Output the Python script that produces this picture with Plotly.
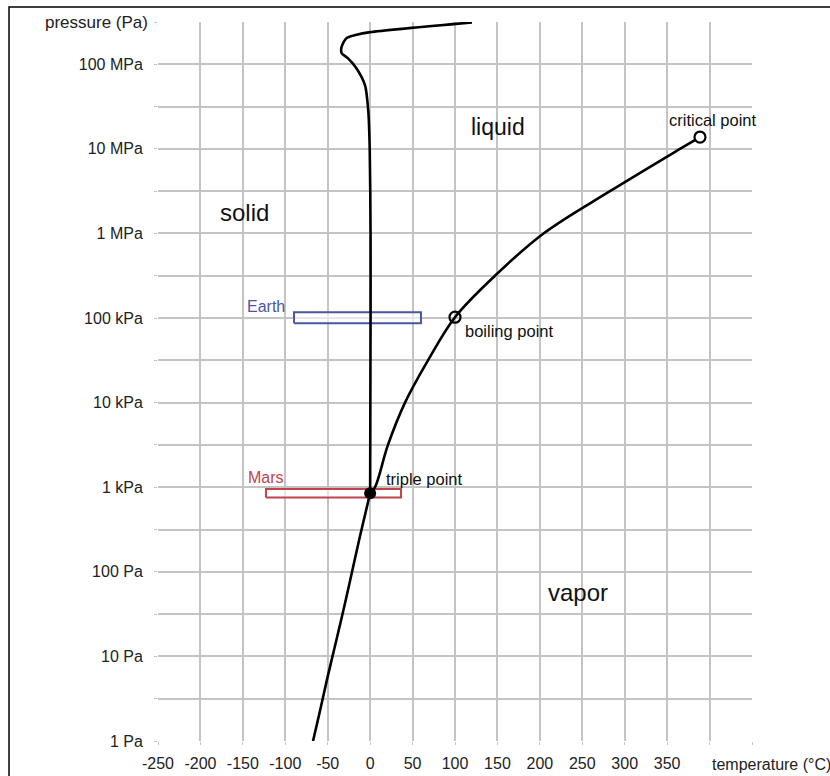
import plotly.graph_objects as go

# Phase boundaries of water: temperature (°C) and log10 of pressure (Pa)
sublimation_t = [-67.3, -59.0, -51.0, -42.0, -33.0, -24.0, -12.0, 0.0]
sublimation_logp = [0.0, 0.36, 0.72, 1.10, 1.48, 1.88, 2.42, 2.93]

vaporization_t = [0.0, 5.7, 21.0, 41.1, 68.2, 100.0, 147.1, 204.3, 282.6, 365.1, 388.7]
vaporization_logp = [2.93, 3.0, 3.5, 4.0, 4.5, 5.01, 5.5, 6.0, 6.5, 7.0, 7.14]

melting_t = [0.0, 0.5, 0.5, -0.5, -2.2, -6.0, -16.0, -26.0, -33.5, -34.2, -33.5, -27.6, -16.0, 0.0, 120.0]
melting_logp = [2.93, 5.0, 6.0, 7.0, 7.45, 7.75, 7.95, 8.07, 8.13, 8.17, 8.21, 8.31, 8.35, 8.38, 8.495]

# Notable points
triple_point = (0.0, 2.93)
boiling_point = (100.0, 5.01)
critical_point = (388.7, 7.14)

# Surface condition ranges (temperature span, log10 pressure span)
earth_t = [-89.7, 59.9]
earth_logp = [4.94, 5.07]
mars_t = [-122.7, 36.4]
mars_logp = [2.88, 2.98]

# Axis ticks
x_ticks = list(range(-250, 451, 50))
x_ticktext = [str(v) if v <= 350 else "" for v in x_ticks]
y_tick_logs = [k / 2 for k in range(0, 18)]
decade_names = ["1 Pa", "10 Pa", "100 Pa", "1 kPa", "10 kPa", "100 kPa", "1 MPa", "10 MPa", "100 MPa"]

EARTH_COLOR = "#4b56a3"
MARS_COLOR = "#c0434d"
FONT = "Liberation Sans, Arial, sans-serif"
GRID = "#c4c4c4"

y_ticktext = []
for lg in y_tick_logs:
    if float(lg).is_integer():
        y_ticktext.append(decade_names[int(lg)])
    else:
        y_ticktext.append("")


def p(logs):
    return [10 ** v for v in logs]


def box(ts, lps):
    xs = [ts[0], ts[1], ts[1], ts[0], ts[0]]
    ys = [lps[0], lps[0], lps[1], lps[1], lps[0]]
    return xs, p(ys)


fig = go.Figure()

# Earth and Mars condition boxes
for ts, lps, col in [(earth_t, earth_logp, EARTH_COLOR), (mars_t, mars_logp, MARS_COLOR)]:
    bx, by = box(ts, lps)
    fig.add_trace(go.Scatter(x=bx, y=by, mode="lines", fill="toself",
                             fillcolor="rgba(255,255,255,0.6)",
                             line=dict(color=col, width=2), hoverinfo="skip"))

line_style = dict(color="black", width=2.6)
fig.add_trace(go.Scatter(x=sublimation_t, y=p(sublimation_logp), mode="lines",
                         line=dict(**line_style, shape="spline", smoothing=0.8)))
fig.add_trace(go.Scatter(x=vaporization_t, y=p(vaporization_logp), mode="lines",
                         line=dict(**line_style, shape="spline", smoothing=1.0)))
fig.add_trace(go.Scatter(x=melting_t, y=p(melting_logp), mode="lines",
                         line=dict(**line_style, shape="spline", smoothing=0.7)))

# Triple point (filled), boiling point (open), critical point (open, white)
fig.add_trace(go.Scatter(x=[triple_point[0]], y=p([triple_point[1]]), mode="markers",
                         marker=dict(symbol="circle", size=12, color="black")))
fig.add_trace(go.Scatter(x=[boiling_point[0]], y=p([boiling_point[1]]), mode="markers",
                         marker=dict(symbol="circle-open", size=11, color="black",
                                     line=dict(width=2.2))))
fig.add_trace(go.Scatter(x=[critical_point[0]], y=p([critical_point[1]]), mode="markers",
                         marker=dict(symbol="circle", size=11, color="white",
                                     line=dict(color="black", width=2.2))))

annotations = [
    dict(text="solid", x=-147.5, y=6.25, size=24, color="#111"),
    dict(text="liquid", x=151, y=7.26, size=23, color="#111"),
    dict(text="vapor", x=245, y=1.76, size=24, color="#111"),
    dict(text="critical point", x=404, y=7.34, size=16.5, color="#111"),
    dict(text="boiling point", x=163.6, y=4.85, size=16.5, color="#111"),
    dict(text="triple point", x=64.6, y=3.10, size=16.5, color="#111"),
    dict(text="Earth", x=-122.7, y=5.14, size=16, color=EARTH_COLOR),
    dict(text="Mars", x=-123.3, y=3.11, size=16, color=MARS_COLOR),
]
for a in annotations:
    fig.add_annotation(x=a["x"], y=a["y"], text=a["text"], showarrow=False,
                       xanchor="center", yanchor="middle",
                       font=dict(family=FONT, size=a["size"], color=a["color"]))

# Axis titles placed at the ends of the axes
fig.add_annotation(x=400.5, y=-0.032, xref="x", yref="paper", text="temperature (°C)",
                   showarrow=False, xanchor="left", yanchor="middle",
                   font=dict(family=FONT, size=16, color="#222"))
fig.add_annotation(x=-0.0135, y=8.5, xref="paper", yref="y", text="pressure (Pa)",
                   showarrow=False, xanchor="right", yanchor="middle",
                   font=dict(family=FONT, size=17, color="#222"))

# Outer frame
fig.add_shape(type="rect", xref="paper", yref="paper",
              x0=-0.2508, x1=1.4, y0=-0.3, y1=1.0209,
              line=dict(color="black", width=1.5), fillcolor="rgba(0,0,0,0)", layer="above")

fig.update_xaxes(range=[-250, 450], tickvals=x_ticks, ticktext=x_ticktext, automargin=False,
                 showgrid=True, gridcolor=GRID, gridwidth=1.6, zeroline=False,
                 ticks="outside", ticklen=3, tickcolor=GRID, ticklabelstandoff=5,
                 tickfont=dict(family=FONT, size=16, color="#222"), showline=False)
fig.update_yaxes(type="log", range=[0, 8.5], tickvals=p(y_tick_logs), ticktext=y_ticktext,
                 automargin=False,
                 showgrid=True, gridcolor=GRID, gridwidth=1.6, zeroline=False,
                 ticks="outside", ticklen=3, tickcolor=GRID, ticklabelstandoff=8,
                 tickfont=dict(family=FONT, size=16, color="#222"), showline=False)

fig.update_layout(width=830, height=776,
                  margin=dict(l=158, r=78, t=22, b=35),
                  plot_bgcolor="white", paper_bgcolor="white",
                  showlegend=False, hovermode=False)

fig.write_html("out.html")
